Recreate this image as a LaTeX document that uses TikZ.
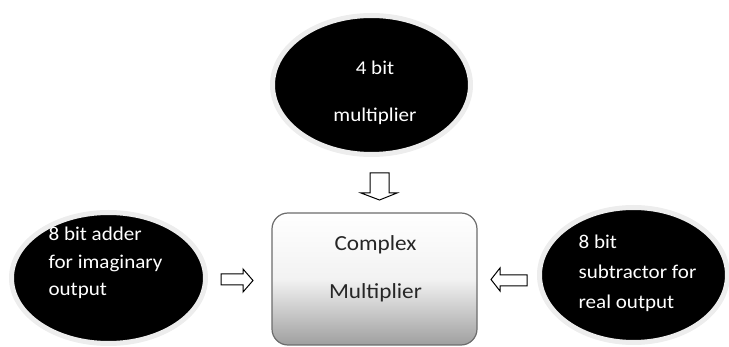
\documentclass[tikz,border=0pt]{standalone}
\usepackage{fontspec}
\setmainfont{Carlito}
\usepackage{tikz}
\usetikzlibrary{calc,positioning,shapes.geometric,shadows}

\tikzset{
  blob/.style={ellipse, fill=black, draw=gray!14, line width=5pt, inner sep=0pt,
    drop shadow={shadow xshift=1pt, shadow yshift=-1.5pt, opacity=.35}},
  blobtext/.style={text=white, align=left, inner sep=0pt,
    font=\fontsize{19.5}{#1}\selectfont\addfontfeatures{FakeStretch=1.08}},
  core/.style={rounded corners=16pt, draw=gray!85!black, line width=1.2pt,
    top color=white, bottom color=gray!75, middle color=gray!10,
    minimum width=205pt, minimum height=132pt, inner sep=0pt},
  hollow/.style={draw=black, line width=1pt, fill=white, line join=miter}
}

\begin{document}
\begin{tikzpicture}[x=1pt,y=-1pt]
\useasboundingbox (0,0) rectangle (729,347);

% the three blocks
\node[blob, minimum width=198pt, minimum height=139pt] (mult) at (371.5,85) {};
\node[blob, minimum width=194pt, minimum height=131pt] (adder) at (108.5,278) {};
\node[blob, minimum width=188pt, minimum height=135pt] (sub) at (633.5,275) {};
\node[core] (cmul) at (374.5,279) {};

% texts
\node[blobtext=47pt, align=center] (mult-t) at ($(mult)+(3.5,8)$) {4 bit\\multiplier};
\node[blobtext=27.5pt] (adder-t) at ($(adder)+(-3,-15)$) {8 bit adder\\for imaginary\\output};
\node[blobtext=30pt] (sub-t) at ($(sub)+(4,-2)$) {8 bit\\subtractor for\\real output};
\node[align=center, text=black!85, inner sep=0pt,
  font=\fontsize{21.5}{48}\selectfont\addfontfeatures{FakeStretch=1.08}] (cmul-t) at ($(cmul)+(1,-10)$) {Complex\\Multiplier};

% block arrows
\draw[hollow] (370,173) -- (389,173) -- (389,193) -- (397,193) -- (379.5,200) -- (361,193) -- (370,193) -- cycle;
\draw[hollow] (221,274) -- (243,274) -- (243,269) -- (253,280.5) -- (243,292) -- (243,285) -- (221,285) -- cycle;
\draw[hollow] (527,275) -- (500,275) -- (500,268) -- (491,279.5) -- (500,291) -- (500,286) -- (527,286) -- cycle;
\end{tikzpicture}
\end{document}
